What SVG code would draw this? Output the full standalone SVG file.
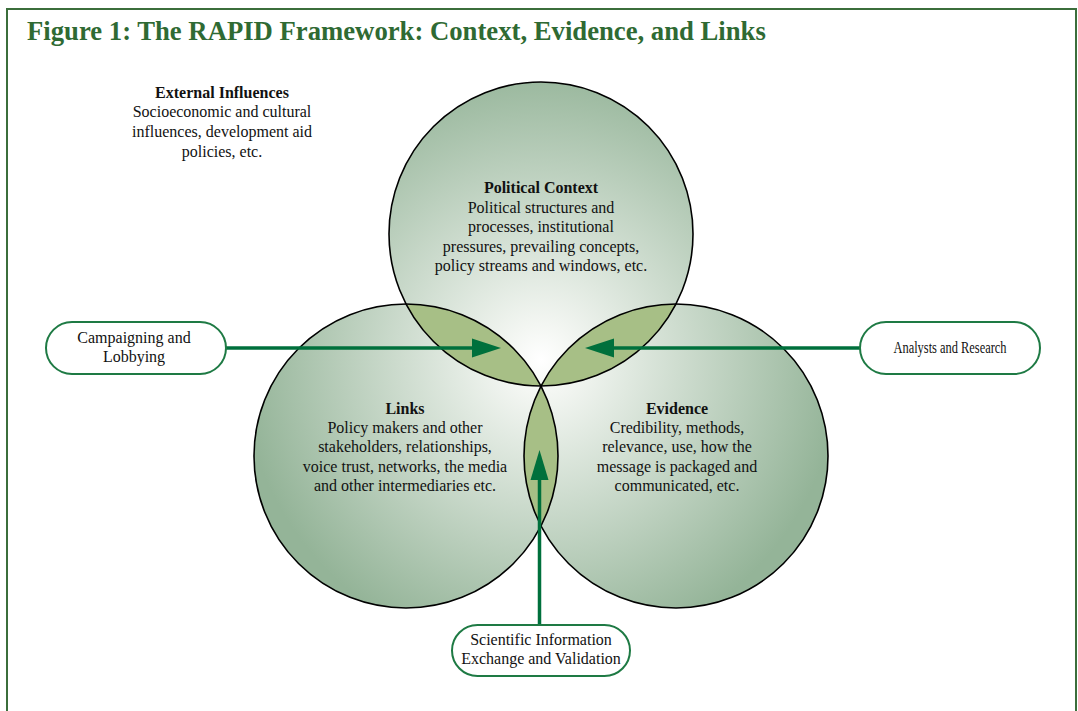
<svg xmlns="http://www.w3.org/2000/svg" width="1078" height="711" viewBox="0 0 1078 711">
<style>
text{font-family:"Liberation Serif","Times New Roman",serif;fill:#111;}
.t{font-size:16px;text-anchor:middle;}
.b{font-weight:bold;}
.title{font-size:26.7px;font-weight:bold;fill:#2f6a33;}
.circ{fill:url(#g);stroke:none;}
.edge{fill:none;stroke:#000;stroke-width:1.6;}
.lens{fill:#a7bf86;}
.box{fill:#fff;stroke:#1e7a44;stroke-width:2;}
.con{stroke:#00703c;stroke-width:3.5;fill:none;}
.bt{font-size:16px;text-anchor:middle;}
</style>
<defs>
<radialGradient id="g" gradientUnits="userSpaceOnUse" cx="541" cy="360" r="300">
<stop offset="0" stop-color="#ffffff"/>
<stop offset="0.12" stop-color="#f3f6f2"/>
<stop offset="1" stop-color="#94b498"/>
</radialGradient>
<clipPath id="cT"><circle cx="541" cy="234" r="152"/></clipPath>
<clipPath id="cL"><circle cx="406" cy="456" r="152"/></clipPath>
<clipPath id="cR"><circle cx="676" cy="456" r="152"/></clipPath>
</defs>
<rect x="7" y="9" width="1069" height="730" fill="#fff" stroke="#3b6e3b" stroke-width="2"/>
<text class="title" x="27" y="40">Figure 1: The RAPID Framework: Context, Evidence, and Links</text>
<g id="external">
<text class="t b" x="222" y="98">External Influences</text>
<text class="t" x="222" y="117">Socioeconomic and cultural</text>
<text class="t" x="222" y="137">influences, development aid</text>
<text class="t" x="222" y="157">policies, etc.</text>
</g>
<g id="circles">
<circle class="circ" cx="541" cy="234" r="152"/>
<circle class="circ" cx="406" cy="456" r="152"/>
<circle class="circ" cx="676" cy="456" r="152"/>
<circle class="lens" cx="541" cy="234" r="152" clip-path="url(#cL)"/>
<circle class="lens" cx="541" cy="234" r="152" clip-path="url(#cR)"/>
<circle class="lens" cx="406" cy="456" r="152" clip-path="url(#cR)"/>
<circle class="edge" cx="541" cy="234" r="152"/>
<circle class="edge" cx="406" cy="456" r="152"/>
<circle class="edge" cx="676" cy="456" r="152"/>
</g>
<g id="political">
<text class="t b" x="541" y="193">Political Context</text>
<text class="t" x="541" y="213">Political structures and</text>
<text class="t" x="541" y="232">processes, institutional</text>
<text class="t" x="541" y="252">pressures, prevailing concepts,</text>
<text class="t" x="541" y="271">policy streams and windows, etc.</text>
</g>
<g id="links">
<text class="t b" x="405" y="414">Links</text>
<text class="t" x="405" y="433">Policy makers and other</text>
<text class="t" x="405" y="452">stakeholders, relationships,</text>
<text class="t" x="405" y="472">voice trust, networks, the media</text>
<text class="t" x="405" y="491">and other intermediaries etc.</text>
</g>
<g id="evidence">
<text class="t b" x="677" y="414">Evidence</text>
<text class="t" x="677" y="433">Credibility, methods,</text>
<text class="t" x="677" y="452">relevance, use, how the</text>
<text class="t" x="677" y="472">message is packaged and</text>
<text class="t" x="677" y="491">communicated, etc.</text>
</g>
<g id="connectors">
<line class="con" x1="226" y1="348" x2="474" y2="348"/>
<path d="M472,338.5 L501,348 L472,357.5 Z" fill="#00703c"/>
<line class="con" x1="860" y1="348" x2="612" y2="348"/>
<path d="M614,338.5 L585,348 L614,357.5 Z" fill="#00703c"/>
<line class="con" x1="539.5" y1="625" x2="539.5" y2="478"/>
<path d="M530.5,480 L539.5,450 L548.5,480 Z" fill="#00703c"/>
</g>
<g id="campaigning">
<rect class="box" x="46" y="322" width="180" height="52" rx="26"/>
<text class="bt" x="134" y="343">Campaigning and</text>
<text class="bt" x="134" y="362">Lobbying</text>
</g>
<g id="analysts">
<rect class="box" x="860" y="322" width="180" height="52" rx="26"/>
<text class="bt" x="950" y="353" font-size="13" textLength="113" lengthAdjust="spacingAndGlyphs">Analysts and Research</text>
</g>
<g id="scientific">
<rect class="box" x="452" y="625" width="178" height="51" rx="25.5"/>
<text class="bt" x="541" y="645">Scientific Information</text>
<text class="bt" x="541" y="664">Exchange and Validation</text>
</g>
</svg>
